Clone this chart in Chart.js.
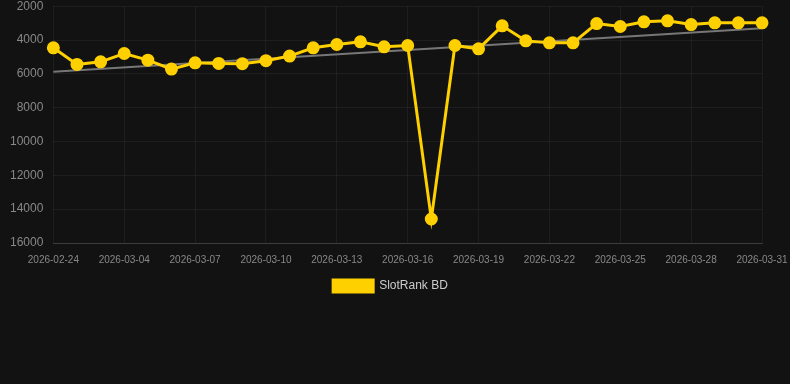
<!DOCTYPE html>
<html>
<head>
<meta charset="utf-8">
<script src="https://cdn.jsdelivr.net/npm/chart.js@4/dist/chart.umd.min.js"></script>
<style>
  html, body { margin: 0; padding: 0; background: #121212; overflow: hidden; }
  #wrap { width: 790px; height: 313px; position: relative; top: -11px; }
</style>
</head>
<body>
<div id="wrap"><canvas id="c"></canvas></div>
<script>
const categories = ['2026-02-24','2026-03-02','2026-03-03','2026-03-04','2026-03-05','2026-03-06','2026-03-07','2026-03-08','2026-03-09','2026-03-10','2026-03-11','2026-03-12','2026-03-13','2026-03-14','2026-03-15','2026-03-16','2026-03-17','2026-03-18','2026-03-19','2026-03-20','2026-03-21','2026-03-22','2026-03-23','2026-03-24','2026-03-25','2026-03-26','2026-03-27','2026-03-28','2026-03-29','2026-03-30','2026-03-31'];
const rankValues = [4460,5445,5290,4795,5190,5720,5350,5385,5400,5220,4950,4460,4265,4105,4400,4325,14580,4325,4520,3160,4050,4165,4165,3025,3200,2925,2865,3085,2985,2985,2985];
const trendEnds = [5880, 3300];
const yTicks = [2000,4000,6000,8000,10000,12000,14000,16000];

const trendData = categories.map((_, i) => i === 0 ? trendEnds[0] : (i === categories.length - 1 ? trendEnds[1] : null));

new Chart(document.getElementById('c'), {
  type: 'line',
  data: {
    labels: categories,
    datasets: [
      {
        label: 'SlotRank BD',
        data: rankValues,
        borderColor: '#FFD000',
        backgroundColor: '#FFD000',
        borderWidth: 3,
        pointRadius: 5,
        pointHoverRadius: 6,
        pointBackgroundColor: '#FFD000',
        pointBorderColor: '#FFD000',
        tension: 0,
        order: 0
      },
      {
        label: 'trend',
        data: trendData,
        borderColor: '#777777',
        borderWidth: 2,
        pointRadius: 0,
        spanGaps: true,
        fill: false,
        order: 1
      }
    ]
  },
  options: {
    responsive: true,
    maintainAspectRatio: false,
    animation: false,
    layout: { padding: { left: 0, right: 9, top: 0, bottom: 0 } },
    plugins: {
      legend: {
        position: 'bottom',
        labels: {
          color: '#cccccc',
          font: { family: 'Liberation Sans, Arial, sans-serif', size: 12 },
          boxWidth: 40,
          boxHeight: 12,
          padding: 10,
          filter: (item) => item.text !== 'trend'
        }
      },
      tooltip: { enabled: false }
    },
    scales: {
      x: {
        grid: { color: 'rgba(255,255,255,0.05)', drawTicks: false },
        border: { color: 'rgba(255,255,255,0.14)' },
        ticks: {
          color: '#888888',
          font: { family: 'Liberation Sans, Arial, sans-serif', size: 10 },
          maxRotation: 0,
          autoSkip: true,
          padding: 11
        },
        afterFit: (s) => { s.paddingRight = 28; s.height -= 7; }
      },
      y: {
        reverse: true,
        min: 2000,
        max: 16000,
        afterBuildTicks: (axis) => { axis.ticks = yTicks.map(v => ({ value: v })); },
        grid: { color: 'rgba(255,255,255,0.05)', drawTicks: false },
        border: { display: false },
        ticks: {
          color: '#888888',
          font: { family: 'Liberation Sans, Arial, sans-serif', size: 12 },
          padding: 10,
          callback: (v) => String(v)
        }
      }
    }
  }
});
</script>
</body>
</html>
